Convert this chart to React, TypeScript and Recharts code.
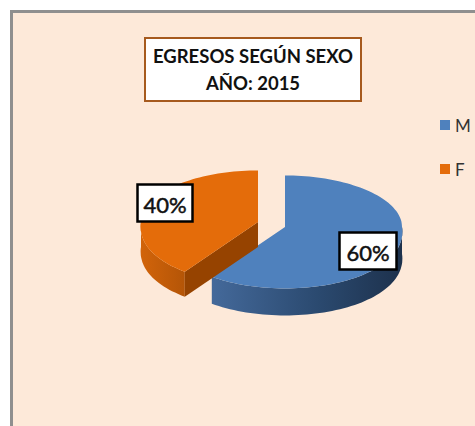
import { Legend, Pie, PieChart } from 'recharts';

const CATEGORIES = ['M', 'F'];
const VALUES = [60, 40];
const COLORS = ['#4f81bd', '#e46c0a'];

const FONT = 'Lato, "Open Sans", sans-serif';

const data = CATEGORIES.map((name, i) => ({ name, value: VALUES[i], fill: COLORS[i] }));

// Fake 3D look: each slice gets flattened, the back half a bit more than the front,
// and the front half is slightly wider (perspective)
const SQUASH_BACK = 0.44;
const SQUASH_FRONT = 0.525;
const FRONT_WIDEN = 0.08;
const DEPTH = [27, 25];
const OFFSET = [
  { x: 0, y: 0 },
  { x: -27, y: -5 },
];
const WALL_FILL = ['url(#wallBlue)', 'url(#wallOrange)'];
const CUT_FILL = '#964300';

// Where the label boxes sit, relative to the slice's apex
const LABEL_POS = [
  { dx: 83, dy: 24 },
  { dx: -93, dy: -19 },
];

const project = (cx: number, cy: number, r: number, deg: number) => {
  const a = (deg * Math.PI) / 180;
  const s = Math.sin(a);
  return {
    x: cx + r * Math.cos(a) * (s < 0 ? 1 - FRONT_WIDEN * s : 1),
    y: cy - r * s * (s > 0 ? SQUASH_BACK : SQUASH_FRONT),
  };
};

const arcPoints = (cx: number, cy: number, r: number, from: number, to: number) => {
  const n = Math.max(2, Math.ceil(Math.abs(to - from) / 2));
  const pts = [];
  for (let i = 0; i <= n; i++) pts.push(project(cx, cy, r, from + ((to - from) * i) / n));
  return pts;
};

const toPath = (pts: { x: number; y: number }[]) =>
  pts.map((p, i) => `${i ? 'L' : 'M'}${p.x.toFixed(1)} ${p.y.toFixed(1)}`).join(' ') + ' Z';

const normalize = (deg: number) => ((deg % 360) + 360) % 360;

const Slice3D = (props: any) => {
  const { startAngle, endAngle, outerRadius, fill, index } = props;
  const cx = props.cx + OFFSET[index].x;
  const cy = props.cy + OFFSET[index].y;
  const depth = DEPTH[index];

  const top = [{ x: cx, y: cy }, ...arcPoints(cx, cy, outerRadius, startAngle, endAngle)];

  // Outer wall only for the part of the rim facing the viewer (180..360 deg)
  const hi = Math.max(startAngle, endAngle);
  const lo = Math.min(startAngle, endAngle);
  let wallFrom = 0;
  let wallTo = 0;
  for (const shift of [-720, -360, 0, 360]) {
    const a = Math.max(lo, 180 + shift);
    const b = Math.min(hi, 360 + shift);
    if (b > a) {
      wallFrom = a;
      wallTo = b;
    }
  }
  const rim = arcPoints(cx, cy, outerRadius, wallFrom, wallTo);
  const wall = [...rim, ...rim.slice().reverse().map((p) => ({ x: p.x, y: p.y + depth }))];

  // The cut face of the pulled-out slice shows along its lower radius
  const cutEnd = project(cx, cy, outerRadius, normalize(startAngle) === 234 ? startAngle : endAngle);
  const cut = [
    { x: cx, y: cy },
    cutEnd,
    { x: cutEnd.x, y: cutEnd.y + depth },
    { x: cx, y: cy + depth },
  ];

  return (
    <g>
      <path d={toPath(wall)} fill={WALL_FILL[index]} />
      {index === 1 && <path d={toPath(cut)} fill={CUT_FILL} />}
      <path d={toPath(top)} fill={fill} />
    </g>
  );
};

const renderLabel = (props: any) => {
  const { cx, cy, index, value } = props;
  const w = index === 0 ? 57 : 55;
  const h = 37;
  const x = cx + OFFSET[index].x + LABEL_POS[index].dx;
  const y = cy + OFFSET[index].y + LABEL_POS[index].dy;
  return (
    <g>
      <rect x={x - w / 2} y={y - h / 2} width={w} height={h} fill="#fff" stroke="#000" strokeWidth={2.5} />
      <text
        x={x}
        y={y + 1}
        textAnchor="middle"
        dominantBaseline="central"
        fontFamily={FONT}
        fontSize={22}
        fill="#111"
        stroke="#111"
        strokeWidth={0.5}
      >
        {value}%
      </text>
    </g>
  );
};

const renderLegend = () => (
  <div style={{ fontFamily: FONT, fontSize: 17, color: '#333' }}>
    {data.map((d) => (
      <div key={d.name} style={{ display: 'flex', alignItems: 'center', height: 44 }}>
        <span style={{ width: 10, height: 10, background: d.fill, marginRight: 5 }} />
        {d.name}
      </div>
    ))}
  </div>
);

export default function App() {
  return (
    <div style={{ position: 'absolute', left: 0, top: 0, width: 475, height: 426, overflow: 'hidden', background: '#fff' }}>
      <div
        style={{
          position: 'absolute',
          left: 10,
          top: 10,
          width: 480,
          height: 430,
          background: '#fde9d9',
          border: '3px solid #8f8f8f',
        }}
      />
      <PieChart
        width={475}
        height={426}
        margin={{ top: 0, right: 0, bottom: 0, left: 0 }}
        style={{ position: 'absolute', left: 0, top: 0 }}
      >
        <defs>
          <linearGradient id="wallBlue" x1="0" y1="0" x2="1" y2="0">
            <stop offset="0" stopColor="#44699a" />
            <stop offset="0.55" stopColor="#2b4a70" />
            <stop offset="1" stopColor="#1d314c" />
          </linearGradient>
          <linearGradient id="wallOrange" x1="0" y1="0" x2="1" y2="0">
            <stop offset="0" stopColor="#d2640a" />
            <stop offset="1" stopColor="#b45507" />
          </linearGradient>
        </defs>
        <Pie
          data={data}
          dataKey="value"
          nameKey="name"
          cx={285}
          cy={227}
          outerRadius={117}
          startAngle={90}
          endAngle={-270}
          stroke="none"
          shape={Slice3D}
          label={renderLabel}
          labelLine={false}
          isAnimationActive={false}
        />
        <Legend
          content={renderLegend}
          wrapperStyle={{ position: 'absolute', left: 440, top: 103, width: 35 }}
        />
      </PieChart>
      <div
        style={{
          position: 'absolute',
          left: 144,
          top: 37,
          width: 214,
          height: 57,
          border: '2px solid #a65a1e',
          background: '#fff',
          fontFamily: FONT,
          fontWeight: 700,
          fontSize: 18.5,
          lineHeight: '27px',
          textAlign: 'center',
          color: '#111',
          paddingTop: 4,
          boxSizing: 'content-box',
        }}
      >
        EGRESOS SEGÚN SEXO
        <br />
        AÑO: 2015
      </div>
    </div>
  );
}
